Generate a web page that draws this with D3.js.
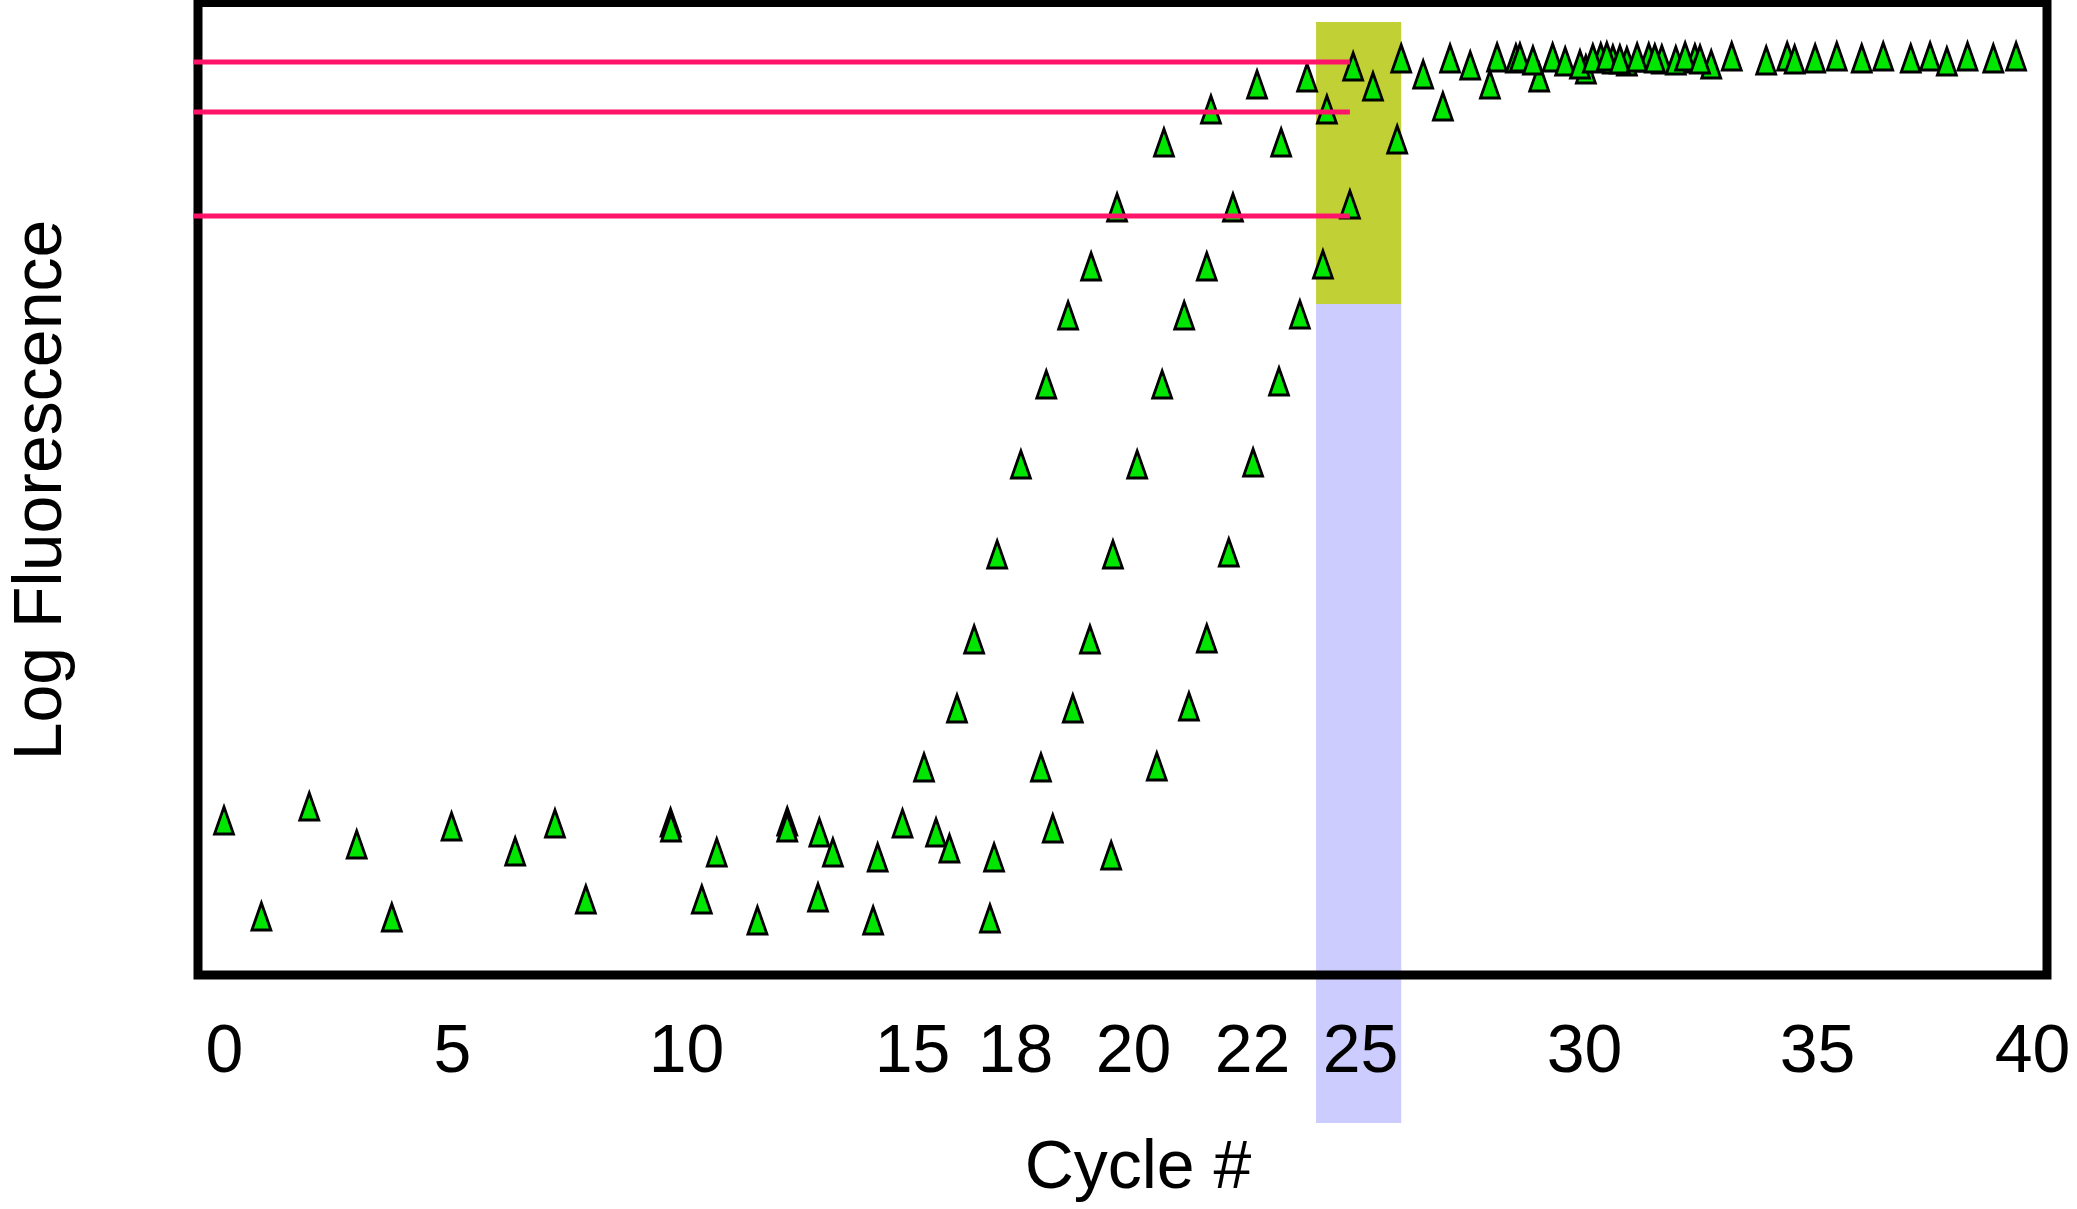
<!DOCTYPE html>
<html><head><meta charset="utf-8">
<script src="https://cdn.jsdelivr.net/npm/d3@7"></script>
<style>html,body{margin:0;padding:0;background:#fff;} svg{display:block;}</style>
</head><body>
<svg id="chart" width="2077" height="1209"></svg>
<script>
// ---------- DATA ----------
const cycleTicks = [0, 5, 10, 15, 18, 20, 22, 25, 30, 35, 40];
const xTitle = "Cycle #";
const yTitle = "Log Fluorescence";

// background noise before amplification: [cycle, log fluorescence]
const baseline = [[0.0,15.4],[0.82,5.8],[1.87,16.8],[2.91,13.0],[3.68,5.7],[4.99,14.8],[6.35,12.3],[7.20,15.1],[7.86,7.5],[9.67,15.2],[9.68,14.7],[10.35,7.5],[10.68,12.2],[11.58,5.4],[12.24,15.3],[12.24,14.7],[12.92,7.7],[12.95,14.2],[13.25,12.2],[14.14,5.4],[14.24,11.7],[14.79,15.1],[15.70,14.2],[16.09,12.6],[17.27,5.6],[17.39,11.7],[18.64,14.6],[19.63,11.9]];

const sampleA = [[15.35,20.7],[16.31,26.6],[16.81,33.5],[17.48,42.0],[18.10,51.0],[18.53,59.0],[18.90,65.9],[19.29,70.8],[19.73,76.7],[20.52,83.2],[21.31,86.5],[22.14,89.0],[23.53,89.7],[24.81,90.8],[25.92,91.6],[27.01,91.6],[28.06,91.7],[29.30,91.7],[30.36,91.7],[31.39,91.7],[32.38,91.6],[33.17,91.8],[34.36,91.8],[35.46,91.8],[36.54,91.8],[37.63,91.8],[38.50,91.8],[39.63,91.8]];

const sampleB = [[18.44,20.7],[18.98,26.6],[19.27,33.5],[19.66,42.0],[20.07,51.0],[20.49,59.0],[20.86,65.9],[21.24,70.8],[21.68,76.7],[22.81,83.2],[24.08,86.5],[25.29,88.8],[26.41,90.0],[27.46,90.9],[28.48,91.6],[29.58,91.3],[30.62,91.5],[31.67,91.5],[32.73,91.0],[33.91,91.4],[34.96,91.6],[36.04,91.6],[37.18,91.6],[38.02,91.3],[39.10,91.6]];

const sampleC = [[20.40,20.8],[20.94,26.8],[21.24,33.6],[21.61,42.2],[22.03,51.2],[22.75,59.3],[23.33,66.0],[23.97,71.0],[24.72,77.0],[25.83,83.5],[26.85,86.8],[27.90,89.0],[29.00,89.7],[30.04,90.5],[30.92,91.3],[31.97,91.4]];

const plateauOverlap = [[28.57,91.7],[28.86,91.4],[29.91,91.0],[30.19,91.6],[30.49,91.8],[30.77,91.5],[31.14,91.7],[31.52,91.6],[32.17,91.8],[32.49,91.5],[34.52,91.5]];

// threshold lines (log fluorescence) and where they stop (cycle)
const thresholds = [91.3, 86.3, 75.9];
const thresholdEndCycle = 24.72;

// highlighted cycle window and its two zones (log fluorescence)
const highlightCycles = [23.78, 25.92];
const thresholdZone = [67.1, 95.3];
const lowerZone = [-14.8, 67.1];

// ---------- LAYOUT ----------
const frame = {left: 198, right: 2047, top: 2.5, bottom: 975, stroke: 9};
const svg = d3.select("#chart");
const font = "'Liberation Sans', Arial, Helvetica, sans-serif";

const x = d3.scaleLinear()
  .domain(cycleTicks)
  .range([224, 452, 686, 912, 1015, 1133, 1252, 1360, 1584, 1817, 2032]);
const y = d3.scaleLinear().domain([0, 97.2]).range([975, 3]);

// zones
svg.append("rect")
  .attr("x", x(highlightCycles[0])).attr("width", x(highlightCycles[1]) - x(highlightCycles[0]))
  .attr("y", y(lowerZone[1])).attr("height", y(lowerZone[0]) - y(lowerZone[1]))
  .attr("fill", "#ccccff");
svg.append("rect")
  .attr("x", x(highlightCycles[0])).attr("width", x(highlightCycles[1]) - x(highlightCycles[0]))
  .attr("y", y(thresholdZone[1])).attr("height", y(thresholdZone[0]) - y(thresholdZone[1]))
  .attr("fill", "#c1d034");

// frame
svg.append("rect")
  .attr("x", frame.left).attr("y", frame.top)
  .attr("width", frame.right - frame.left).attr("height", frame.bottom - frame.top)
  .attr("fill", "none").attr("stroke", "#000").attr("stroke-width", frame.stroke);

// points
const tri = "M0,-14L9.5,13L-9.5,13Z";
const allPts = [].concat(baseline, sampleA, sampleB, sampleC, plateauOverlap);
svg.append("g").selectAll("path").data(allPts).join("path")
  .attr("d", tri)
  .attr("transform", d => `translate(${x(d[0])},${y(d[1])})`)
  .attr("fill", "#00e600").attr("stroke", "#000").attr("stroke-width", 2.8)
  .attr("stroke-linejoin", "miter");

// threshold lines
svg.append("g").selectAll("line").data(thresholds).join("line")
  .attr("x1", frame.left - frame.stroke / 2).attr("x2", x(thresholdEndCycle))
  .attr("y1", d => y(d)).attr("y2", d => y(d))
  .attr("stroke", "#ff1469").attr("stroke-width", 5);

// x axis labels
const xAxis = d3.axisBottom(x).tickValues(cycleTicks).tickSize(0).tickPadding(49)
  .tickFormat(d3.format("d"));
const gx = svg.append("g").attr("transform", `translate(0,${frame.bottom})`).call(xAxis);
gx.select(".domain").remove();
gx.selectAll("text").attr("font-family", font).attr("font-size", 68).attr("fill", "#000");

// titles
svg.append("text").attr("x", 1138).attr("y", 1188).attr("text-anchor", "middle")
  .attr("font-family", font).attr("font-size", 68).attr("fill", "#000").text(xTitle);
svg.append("text").attr("transform", "translate(61,490) rotate(-90)").attr("text-anchor", "middle")
  .attr("font-family", font).attr("font-size", 68).attr("fill", "#000").text(yTitle);
</script>
</body></html>
